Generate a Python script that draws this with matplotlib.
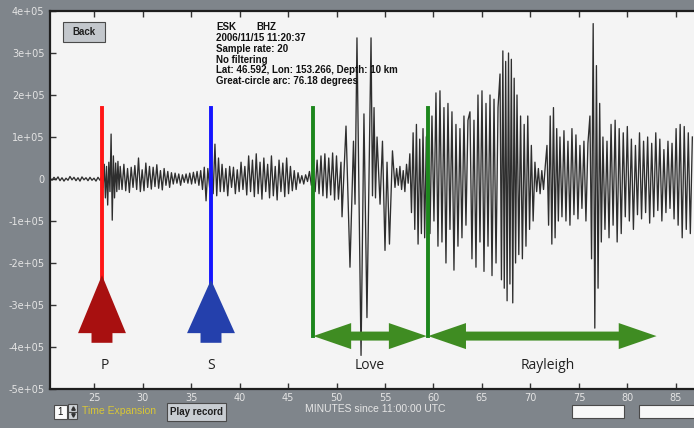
import numpy as np
import matplotlib
matplotlib.use('Agg')
import matplotlib.pyplot as plt
from matplotlib.patches import Polygon, Rectangle

# seismogram turning points (thousands of counts), each list spread evenly over (start, end) minutes
noise = [2, -3, 4, -2, 5, -4, 3, -5, 2, -3, 6, -2, 4, -4, 3, -5, 5, -2, 3, -4, 4, -3, 2, -5, 4, -3]
p_onset = [8, -20, 35, -45, 30, -62, 40, -30, 107, -98, 55, -45, 38, -30, 42, -25]
p_coda = [30, -25, 35, -28, 25, -32, 28, -20, 32, -25, 50, -30, 22, -28, 38, -20, 30, -24, 28, -18,
          34, -22, 20, -26, 25, -15, 18, -20, 15, -12, 14, -10, 12, -15, 10, -8, 12, -10, 14, -12,
          16, -10, 18, -15]
s_onset = [20, -25, 28, -52, 25, -20, 30, -35, 83, -40, 50, -30]
s_coda = [35, -30, 25, -40, 30, -20, 28, -35, 22, -30, 40, -25, 30, -38, 55, -30, 45, -42, 60, -35,
          40, -48, 50, -30, 35, -45, 55, -40, 30, -50, 45, -30, 38, -42, 50, -35, 30, -28, 20, -25,
          15, -10, 8, -12, 10, -6, 18, -15]
love_a = [10, -30, 45, -35, 55, -40, 60, -45, 50, -38, 62, -50, 55, -48]
love_c = [-20, 25, -15, 30, -25, 20, -30, 35, -10, 60, -80, 110, -120, 130, -155, 95, -130, 120, -140, 100]
ray_a = [110, -130, 150, -100, 205, -160, 210, -150, 170, -200, 180, -120, 160, -217, 130, -160, 120,
         -140, 150, -110, 140]
ray_b = [160, -190, 140, -210, 200, -150, 210, -220, 180, -160, 200, -230, 190, -200, 170]
ray_c = [250, -240, 305, -260, 280, -290, 300, -250, 285, -295, 240, -200]
ray_d = [200, -180, 150, -190, 130, -160, 150, -120, 80, -100]
ray_e = [40, -30, 25, -35, 20, -25, 30]
ray_f = [80, -110, 150, -155, 170, -140, 120, -100]
ray_g = [100, -90, 115, -100, 90, -110, 120, -85, 105, -95, 80, -70, 90, -100, 85]
ray_h = [150, -190, 370, -355, 270, -260, 180, -150]
ray_i = [100, -120, 90, -140, 130, -110, 140, -150, 120, -130, 110, -90, 125, -100, 95, -120, 80, -85,
         110, -95, 90, -80, 100, -105, 85, -90, 110, -75, 95, -100, 70, -80, 90, -70, 85, -95, 120,
         -110, 130, -140, 125, -120, 110, -130, 100]

# main Love wave peaks, given at their own times
love_b_t = [50.46, 50.57, 50.98, 51.39, 51.75, 51.91, 52.11, 52.53, 52.83, 53.14, 53.56, 53.71,
            53.87, 54.02, 54.18, 54.49, 54.74, 55.00, 55.21, 55.46, 55.77]
love_b = [40, -90, 126, -210, 90, -60, 336, -420, 155, -330, 336, -40, 170, -45, 100, -60, 90, -170,
          40, -155, 67]

segments = [(20.46, 25.82, noise), (25.82, 27.70, p_onset), (27.70, 36.00, p_coda),
            (36.00, 38.20, s_onset), (38.20, 47.60, s_coda), (47.60, 50.40, love_a),
            (56.03, 59.43, love_c), (59.43, 63.76, ray_a), (63.76, 66.86, ray_b),
            (66.86, 68.61, ray_c), (68.61, 70.46, ray_d), (70.46, 71.70, ray_e),
            (71.70, 73.04, ray_f), (73.04, 76.13, ray_g), (76.13, 77.47, ray_h),
            (77.47, 86.90, ray_i)]

# phase arrivals (minutes)
t_p, t_s, t_love, t_ray, t_end = 25.82, 37.06, 47.61, 59.45, 83.0
labels = [('P', 26.1), ('S', 37.06), ('Love', 53.4), ('Rayleigh', 71.8)]

info = ["2006/11/15 11:20:37", "Sample rate: 20", "No filtering",
        "Lat: 46.592, Lon: 153.266, Depth: 10 km", "Great-circle arc: 76.18 degrees"]

tt, yy = [], []
for a, b, vals in segments:
    tt.append(np.linspace(a, b, len(vals), endpoint=False))
    yy.append(np.array(vals, float))
tt.append(np.array(love_b_t))
yy.append(np.array(love_b, float))
tt = np.concatenate(tt)
yy = np.concatenate(yy) * 1e3
order = np.argsort(tt)
tt, yy = tt[order], yy[order]

W, H = 694, 428
bg = '#7f858b'
fig = plt.figure(figsize=(W / 100, H / 100), dpi=100, facecolor=bg)
ax = fig.add_axes([50 / W, 1 - 389 / H, 1 - 50 / W, 378 / H])
ax.set_facecolor('#f4f4f4')
ax.plot(tt, yy, color='#2e2e2e', lw=0.95, zorder=2)
ax.set_xlim(20.46, 86.86)
ax.set_ylim(-5e5, 4e5)

yt = np.arange(-5, 5) * 1e5
ax.set_yticks(yt)
ax.set_yticklabels(['0' if v == 0 else '%de+05' % (v / 1e5) for v in yt])
ax.set_xticks(np.arange(25, 90, 5))
ax.tick_params(direction='in', length=4, width=1, color='#333333', labelcolor='#e4e4e4',
               labelsize=7, top=True)
ax.tick_params(axis='x', pad=3)
ax.tick_params(axis='y', pad=4)
for s in ['top', 'left', 'bottom']:
    ax.spines[s].set_color('#1e1e1e')
    ax.spines[s].set_linewidth(1.6)
ax.spines['right'].set_visible(False)

top = 1.69e5
hw_up, stem_hw = 2.47, 1.08
base_y, stem_y = -3.67e5, -3.90e5


def up_arrow(x, tip, color):
    pts = [(x, tip), (x + hw_up, base_y), (x + stem_hw, base_y), (x + stem_hw, stem_y),
           (x - stem_hw, stem_y), (x - stem_hw, base_y), (x - hw_up, base_y)]
    ax.add_patch(Polygon(pts, closed=True, color=color, zorder=4, lw=0))


ax.plot([t_p, t_p], [top, -2.35e5], color='#ff1616', lw=2.8, zorder=3)
up_arrow(t_p, -2.29e5, '#a81010')
ax.plot([t_s, t_s], [top, -2.45e5], color='#1414ff', lw=2.8, zorder=3)
up_arrow(t_s, -2.40e5, '#2440ac')

yc, sw, hw, hl = -3.74e5, 0.107e5, 0.31e5, 3.9


def double_arrow(x0, x1):
    pts = [(x0, yc), (x0 + hl, yc + hw), (x0 + hl, yc + sw), (x1 - hl, yc + sw), (x1 - hl, yc + hw),
           (x1, yc), (x1 - hl, yc - hw), (x1 - hl, yc - sw), (x0 + hl, yc - sw), (x0 + hl, yc - hw)]
    ax.add_patch(Polygon(pts, closed=True, color='#3f8c22', zorder=4, lw=0))


for x in (t_love, t_ray):
    ax.plot([x, x], [top, yc], color='#1c861c', lw=2.8, zorder=3)
double_arrow(t_love, t_ray - 0.15)
double_arrow(t_ray, t_end)

for txt, x in labels:
    ax.text(x, -4.45e5, txt, ha='center', va='center', fontsize=10, family='Open Sans',
            color='#222222', zorder=5)

# info block
fig.text(216 / W, 1 - 27 / H, 'ESK', fontsize=7, fontweight='bold', family='Liberation Sans',
         va='center', color='#111111')
fig.text(256 / W, 1 - 27 / H, 'BHZ', fontsize=7, fontweight='bold', family='Liberation Sans',
         va='center', color='#111111')
for i, line in enumerate(info):
    fig.text(216 / W, 1 - (38 + 10.8 * i) / H, line, fontsize=7, fontweight='bold',
             family='Liberation Sans', va='center', color='#111111')


def box(x0, y0, x1, y1, fc, ec='#4a4a4a'):
    fig.patches.append(Rectangle((x0 / W, 1 - y1 / H), (x1 - x0) / W, (y1 - y0) / H,
                                 transform=fig.transFigure, fc=fc, ec=ec, lw=0.8, zorder=5))


# Back button
box(63, 22, 105, 42, '#c3c7cc')
fig.text(84 / W, 1 - 32 / H, 'Back', fontsize=7, fontweight='bold', family='Liberation Sans',
         ha='center', va='center', color='#202020', zorder=6)

# bottom controls
box(54, 405, 67, 419, '#fbfbfb')
fig.text(57 / W, 1 - 412 / H, '1', fontsize=7, family='Liberation Sans', va='center',
         color='#111111', zorder=6)
box(68, 404, 77, 411.5, '#cfd3d7')
box(68, 411.5, 77, 419, '#cfd3d7')
for yy_c, mk in ((407.8, '^'), (415.2, 'v')):
    fig.lines.append(plt.Line2D([72.5 / W], [1 - yy_c / H], transform=fig.transFigure,
                                marker=mk, markersize=2.5, color='#333333', lw=0, zorder=6))
fig.text(82 / W, 1 - 411 / H, 'Time Expansion', fontsize=7.5, family='Liberation Sans',
         va='center', color='#d8c636')
box(167, 403, 226, 421, '#c8cdd2')
fig.text(196.5 / W, 1 - 412 / H, 'Play record', fontsize=7, fontweight='bold',
         family='Liberation Sans', ha='center', va='center', color='#1e1e1e', zorder=6)
fig.text(375 / W, 1 - 409 / H, 'MINUTES since 11:00:00 UTC', fontsize=7.5,
         family='Liberation Sans', ha='center', va='center', color='#e6e6e6')
box(572, 405, 624, 418, '#f8f8f8')
box(639, 405, 700, 418, '#f8f8f8')

fig.savefig('out.png', dpi=100, facecolor=bg)
